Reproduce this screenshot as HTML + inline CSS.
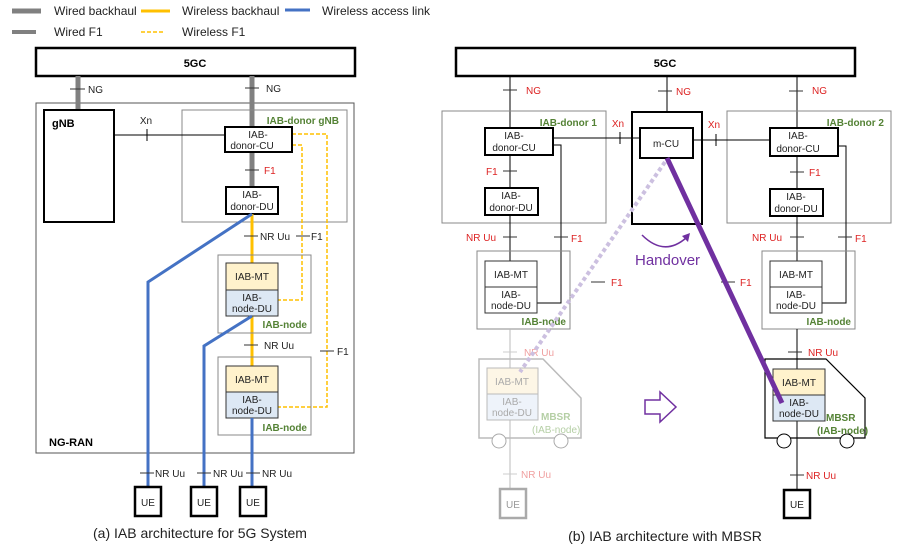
<!DOCTYPE html>
<html><head><meta charset="utf-8"><style>
body{margin:0;background:#fff;}
svg{display:block;font-family:"Liberation Sans",sans-serif;}
.t{font-size:10px;fill:#222;}
.r{font-size:10px;fill:#d22;}
.g{font-size:10px;fill:#548235;font-weight:bold;}
.b{font-weight:bold;}
</style></head><body>
<svg width="900" height="547" viewBox="0 0 900 547">
<!-- legend -->
<line x1="12" y1="11" x2="41" y2="11" stroke="#808080" stroke-width="5"/>
<text x="54" y="15" font-size="12" fill="#222">Wired backhaul</text>
<line x1="141" y1="11" x2="170" y2="11" stroke="#ffc000" stroke-width="3"/>
<text x="182" y="15" font-size="12" fill="#222">Wireless backhaul</text>
<line x1="285" y1="10" x2="310" y2="10" stroke="#4472c4" stroke-width="3"/>
<text x="322" y="15" font-size="12" fill="#222">Wireless access link</text>
<line x1="12" y1="32" x2="36" y2="32" stroke="#808080" stroke-width="4"/>
<text x="54" y="36" font-size="12" fill="#222">Wired F1</text>
<line x1="141" y1="32" x2="165" y2="32" stroke="#ffc000" stroke-width="1.5" stroke-dasharray="4,2"/>
<text x="182" y="36" font-size="12" fill="#222">Wireless F1</text>

<!-- LEFT -->
<rect x="36" y="48" width="319" height="28" fill="#fff" stroke="#000" stroke-width="2.5"/>
<text x="195" y="67" font-size="11" class="b" text-anchor="middle">5GC</text>
<rect x="36" y="103" width="318" height="350" fill="none" stroke="#555" stroke-width="1"/>
<text x="49" y="446" font-size="11" class="b">NG-RAN</text>
<line x1="78" y1="76" x2="78" y2="110" stroke="#808080" stroke-width="5"/>
<line x1="252" y1="76" x2="252" y2="128" stroke="#808080" stroke-width="5"/>
<line x1="70" y1="89" x2="85" y2="89" stroke="#333"/><text x="88" y="93" class="t">NG</text>
<line x1="245" y1="88" x2="259" y2="88" stroke="#333"/><text x="266" y="92" class="t">NG</text>
<rect x="44" y="110" width="70" height="112" fill="#fff" stroke="#000" stroke-width="2"/>
<text x="52" y="127" font-size="11" class="b">gNB</text>
<rect x="182" y="110" width="165" height="112" fill="none" stroke="#888"/>
<text x="339" y="124" class="g" font-size="11" text-anchor="end">IAB-donor gNB</text>
<line x1="114" y1="135" x2="225" y2="135" stroke="#000"/>
<line x1="147" y1="129" x2="147" y2="141" stroke="#000"/><text x="146" y="124" class="t" font-size="9" text-anchor="middle">Xn</text>
<line x1="252" y1="152" x2="252" y2="187" stroke="#808080" stroke-width="5"/>
<line x1="245" y1="170" x2="259" y2="170" stroke="#333"/><text x="264" y="174" class="r">F1</text>
<!-- dashed F1 -->
<polyline points="292,134 327,134 327,407 278,407" fill="none" stroke="#ffc000" stroke-width="1.5" stroke-dasharray="4,2"/>
<polyline points="292,145 302,145 302,300 278,300" fill="none" stroke="#ffc000" stroke-width="1.5" stroke-dasharray="4,2"/>
<rect x="225" y="127" width="67" height="25" fill="#fff" stroke="#000" stroke-width="2"/>
<text x="258" y="138" class="t" text-anchor="middle">IAB-</text><text x="252" y="149" class="t" text-anchor="middle">donor-CU</text>
<rect x="226" y="187" width="52" height="27" fill="#fff" stroke="#000" stroke-width="2"/>
<text x="252" y="198" class="t" text-anchor="middle">IAB-</text><text x="252" y="210" class="t" text-anchor="middle">donor-DU</text>
<line x1="252" y1="214" x2="252" y2="366" stroke="#ffc000" stroke-width="3"/>
<line x1="244" y1="236" x2="258" y2="236" stroke="#333"/><text x="260" y="240" class="t">NR Uu</text>
<line x1="296" y1="236" x2="310" y2="236" stroke="#333"/><text x="311" y="240" class="t">F1</text>
<line x1="244" y1="345" x2="258" y2="345" stroke="#333"/><text x="264" y="349" class="t">NR Uu</text>
<line x1="320" y1="351" x2="334" y2="351" stroke="#333"/><text x="337" y="355" class="t">F1</text>
<rect x="218" y="255" width="93" height="78" fill="none" stroke="#888"/>
<rect x="226" y="263" width="52" height="27" fill="#fff2cc" stroke="#333"/>
<text x="252" y="280" class="t" text-anchor="middle">IAB-MT</text>
<rect x="226" y="290" width="52" height="26" fill="#dde8f4" stroke="#333"/>
<text x="252" y="301" class="t" text-anchor="middle">IAB-</text><text x="252" y="312" class="t" text-anchor="middle">node-DU</text>
<text x="307" y="328" class="g" text-anchor="end">IAB-node</text>
<rect x="218" y="357" width="93" height="78" fill="none" stroke="#888"/>
<rect x="226" y="366" width="52" height="26" fill="#fff2cc" stroke="#333"/>
<text x="252" y="383" class="t" text-anchor="middle">IAB-MT</text>
<rect x="226" y="392" width="52" height="26" fill="#dde8f4" stroke="#333"/>
<text x="252" y="403" class="t" text-anchor="middle">IAB-</text><text x="252" y="414" class="t" text-anchor="middle">node-DU</text>
<text x="307" y="431" class="g" text-anchor="end">IAB-node</text>
<!-- blue -->
<polyline points="252,214 148,282 148,487" fill="none" stroke="#4472c4" stroke-width="3"/>
<polyline points="252,316 204,346 204,487" fill="none" stroke="#4472c4" stroke-width="3"/>
<line x1="252" y1="418" x2="252" y2="487" stroke="#4472c4" stroke-width="3"/>
<line x1="140" y1="473" x2="154" y2="473" stroke="#333"/><text x="155" y="477" class="t">NR Uu</text>
<line x1="197" y1="473" x2="211" y2="473" stroke="#333"/><text x="213" y="477" class="t">NR Uu</text>
<line x1="246" y1="473" x2="260" y2="473" stroke="#333"/><text x="262" y="477" class="t">NR Uu</text>
<rect x="135" y="487" width="26" height="29" fill="#fff" stroke="#000" stroke-width="2.5"/><text x="148" y="506" class="t" text-anchor="middle">UE</text>
<rect x="191" y="487" width="26" height="29" fill="#fff" stroke="#000" stroke-width="2.5"/><text x="204" y="506" class="t" text-anchor="middle">UE</text>
<rect x="240" y="487" width="26" height="29" fill="#fff" stroke="#000" stroke-width="2.5"/><text x="253" y="506" class="t" text-anchor="middle">UE</text>
<text x="200" y="538" font-size="14" fill="#222" text-anchor="middle">(a) IAB architecture for 5G System</text>

<!-- RIGHT -->
<rect x="456" y="48" width="399" height="28" fill="#fff" stroke="#000" stroke-width="2.5"/>
<text x="665" y="67" font-size="11" class="b" text-anchor="middle">5GC</text>
<line x1="510" y1="76" x2="510" y2="128" stroke="#000"/>
<line x1="667" y1="76" x2="667" y2="112" stroke="#000"/>
<line x1="797" y1="76" x2="797" y2="128" stroke="#000"/>
<line x1="503" y1="90" x2="517" y2="90" stroke="#333"/><text x="526" y="94" class="r">NG</text>
<line x1="658" y1="91" x2="672" y2="91" stroke="#333"/><text x="676" y="95" class="r">NG</text>
<line x1="789" y1="91" x2="803" y2="91" stroke="#333"/><text x="812" y="94" class="r">NG</text>
<rect x="442" y="111" width="164" height="112" fill="none" stroke="#888"/>
<text x="597" y="126" class="g" font-size="11" text-anchor="end">IAB-donor 1</text>
<rect x="727" y="111" width="164" height="112" fill="none" stroke="#888"/>
<text x="884" y="126" class="g" font-size="11" text-anchor="end">IAB-donor 2</text>
<rect x="632" y="112" width="70" height="112" fill="#fff" stroke="#000" stroke-width="2"/>
<line x1="553" y1="138" x2="640" y2="138" stroke="#000"/>
<line x1="620" y1="132" x2="620" y2="144" stroke="#000"/><text x="618" y="127" class="r" font-size="9" text-anchor="middle">Xn</text>
<line x1="693" y1="140" x2="770" y2="140" stroke="#000"/>
<line x1="716" y1="134" x2="716" y2="146" stroke="#000"/><text x="714" y="128" class="r" font-size="9" text-anchor="middle">Xn</text>
<rect x="640" y="128" width="53" height="30" fill="#fff" stroke="#000" stroke-width="2"/>
<text x="666" y="147" class="t" text-anchor="middle">m-CU</text>
<!-- left donor -->
<polyline points="553,145 561,145 561,303 537,303" fill="none" stroke="#000"/>
<line x1="510" y1="155" x2="510" y2="261" stroke="#000"/>
<rect x="485" y="128" width="68" height="27" fill="#fff" stroke="#000" stroke-width="2"/>
<text x="514" y="139" class="t" text-anchor="middle">IAB-</text><text x="514" y="151" class="t" text-anchor="middle">donor-CU</text>
<line x1="503" y1="171" x2="517" y2="171" stroke="#333"/><text x="486" y="175" class="r">F1</text>
<rect x="485" y="188" width="53" height="27" fill="#fff" stroke="#000" stroke-width="2"/>
<text x="511" y="199" class="t" text-anchor="middle">IAB-</text><text x="511" y="211" class="t" text-anchor="middle">donor-DU</text>
<line x1="503" y1="237" x2="517" y2="237" stroke="#333"/><text x="466" y="241" class="r">NR Uu</text>
<line x1="554" y1="237" x2="568" y2="237" stroke="#333"/><text x="571" y="242" class="r">F1</text>
<rect x="477" y="251" width="93" height="78" fill="none" stroke="#888"/>
<rect x="485" y="261" width="52" height="26" fill="#fff" stroke="#333"/>
<text x="511" y="278" class="t" text-anchor="middle">IAB-MT</text>
<rect x="485" y="287" width="52" height="26" fill="#fff" stroke="#333"/>
<text x="511" y="298" class="t" text-anchor="middle">IAB-</text><text x="511" y="309" class="t" text-anchor="middle">node-DU</text>
<text x="566" y="325" class="g" text-anchor="end">IAB-node</text>
<!-- right donor -->
<polyline points="838,146 846,146 846,303 822,303" fill="none" stroke="#000"/>
<line x1="797" y1="156" x2="797" y2="261" stroke="#000"/>
<rect x="770" y="128" width="68" height="28" fill="#fff" stroke="#000" stroke-width="2"/>
<text x="798" y="139" class="t" text-anchor="middle">IAB-</text><text x="798" y="152" class="t" text-anchor="middle">donor-CU</text>
<line x1="790" y1="172" x2="804" y2="172" stroke="#333"/><text x="809" y="176" class="r">F1</text>
<rect x="770" y="189" width="53" height="27" fill="#fff" stroke="#000" stroke-width="2"/>
<text x="796" y="200" class="t" text-anchor="middle">IAB-</text><text x="796" y="212" class="t" text-anchor="middle">donor-DU</text>
<line x1="790" y1="237" x2="804" y2="237" stroke="#333"/><text x="752" y="241" class="r">NR Uu</text>
<line x1="838" y1="237" x2="852" y2="237" stroke="#333"/><text x="855" y="242" class="r">F1</text>
<rect x="762" y="251" width="93" height="78" fill="none" stroke="#888"/>
<rect x="770" y="261" width="52" height="26" fill="#fff" stroke="#333"/>
<text x="796" y="278" class="t" text-anchor="middle">IAB-MT</text>
<rect x="770" y="287" width="52" height="26" fill="#fff" stroke="#333"/>
<text x="796" y="298" class="t" text-anchor="middle">IAB-</text><text x="796" y="309" class="t" text-anchor="middle">node-DU</text>
<text x="851" y="325" class="g" text-anchor="end">IAB-node</text>
<!-- handover -->
<path d="M642,235 Q664,257 686,238" fill="none" stroke="#7030a0" stroke-width="1.5"/>
<polygon points="690,233 682,236 688,242" fill="#7030a0"/>
<text x="635" y="265" font-size="15" fill="#7030a0">Handover</text>
<line x1="591" y1="282" x2="605" y2="282" stroke="#333"/><text x="611" y="286" class="r">F1</text>
<line x1="721" y1="282" x2="735" y2="282" stroke="#333"/><text x="740" y="286" class="r">F1</text>
<!-- faded MBSR -->
<line x1="510" y1="329" x2="510" y2="488" stroke="#bbb"/>
<line x1="503" y1="352" x2="517" y2="352" stroke="#ccc"/><text x="524" y="356" class="r" fill="#f0a0a0" style="fill:#f0a0a0">NR Uu</text>
<polygon points="479,359 543,359 581,398 581,438 479,438" fill="none" stroke="#bbb" stroke-width="1.5"/>
<circle cx="499" cy="441" r="7" fill="#fff" stroke="#aaa"/><circle cx="561" cy="441" r="7" fill="#fff" stroke="#aaa"/>
<rect x="487" y="368" width="51" height="26" fill="#fdf6e6" stroke="#bbb"/>
<text x="512" y="385" class="t" style="fill:#aaa" text-anchor="middle">IAB-MT</text>
<rect x="487" y="394" width="51" height="26" fill="#eef3fa" stroke="#bbb"/>
<text x="512" y="405" class="t" style="fill:#aaa" text-anchor="middle">IAB-</text><text x="512" y="416" class="t" style="fill:#aaa" text-anchor="middle">node-DU</text>
<text x="541" y="420" class="g" style="fill:#b5cfa5">MBSR</text>
<text x="532" y="433" class="g" style="fill:#b5cfa5;font-weight:normal">(IAB-node)</text>
<line x1="665" y1="162" x2="520" y2="372" stroke="#ccc0e0" stroke-width="4" stroke-dasharray="4,3"/>
<line x1="503" y1="474" x2="517" y2="474" stroke="#ccc"/><text x="521" y="478" class="r" style="fill:#f0a0a0">NR Uu</text>
<rect x="500" y="489" width="26" height="29" fill="#fff" stroke="#aaa" stroke-width="2.5"/><text x="513" y="508" class="t" style="fill:#999" text-anchor="middle">UE</text>
<!-- hollow arrow -->
<polygon points="645,400 660,400 660,392 676,407 660,422 660,414 645,414" fill="#fff" stroke="#7030a0" stroke-width="1.5"/>
<!-- right MBSR -->
<line x1="797" y1="329" x2="797" y2="490" stroke="#000"/>
<line x1="788" y1="352" x2="802" y2="352" stroke="#333"/><text x="808" y="356" class="r">NR Uu</text>
<polygon points="765,359 826,359 865,398 865,438 765,438" fill="none" stroke="#000" stroke-width="1.2"/>
<circle cx="784" cy="441" r="7" fill="#fff" stroke="#000"/><circle cx="847" cy="441" r="7" fill="#fff" stroke="#000"/>
<rect x="773" y="369" width="52" height="26" fill="#fff2cc" stroke="#333"/>
<text x="799" y="386" class="t" text-anchor="middle">IAB-MT</text>
<rect x="773" y="395" width="52" height="26" fill="#dde8f4" stroke="#333"/>
<text x="799" y="406" class="t" text-anchor="middle">IAB-</text><text x="799" y="417" class="t" text-anchor="middle">node-DU</text>
<text x="826" y="421" class="g" font-size="11">MBSR</text>
<text x="817" y="434" class="g" font-size="11">(IAB-node)</text>
<line x1="667" y1="158" x2="782" y2="403" stroke="#7030a0" stroke-width="5"/>
<line x1="790" y1="475" x2="804" y2="475" stroke="#333"/><text x="806" y="479" class="r">NR Uu</text>
<rect x="784" y="490" width="26" height="28" fill="#fff" stroke="#000" stroke-width="2.5"/><text x="797" y="508" class="t" text-anchor="middle">UE</text>
<text x="665" y="541" font-size="14" fill="#222" text-anchor="middle">(b) IAB architecture with MBSR</text>
</svg>
</body></html>
